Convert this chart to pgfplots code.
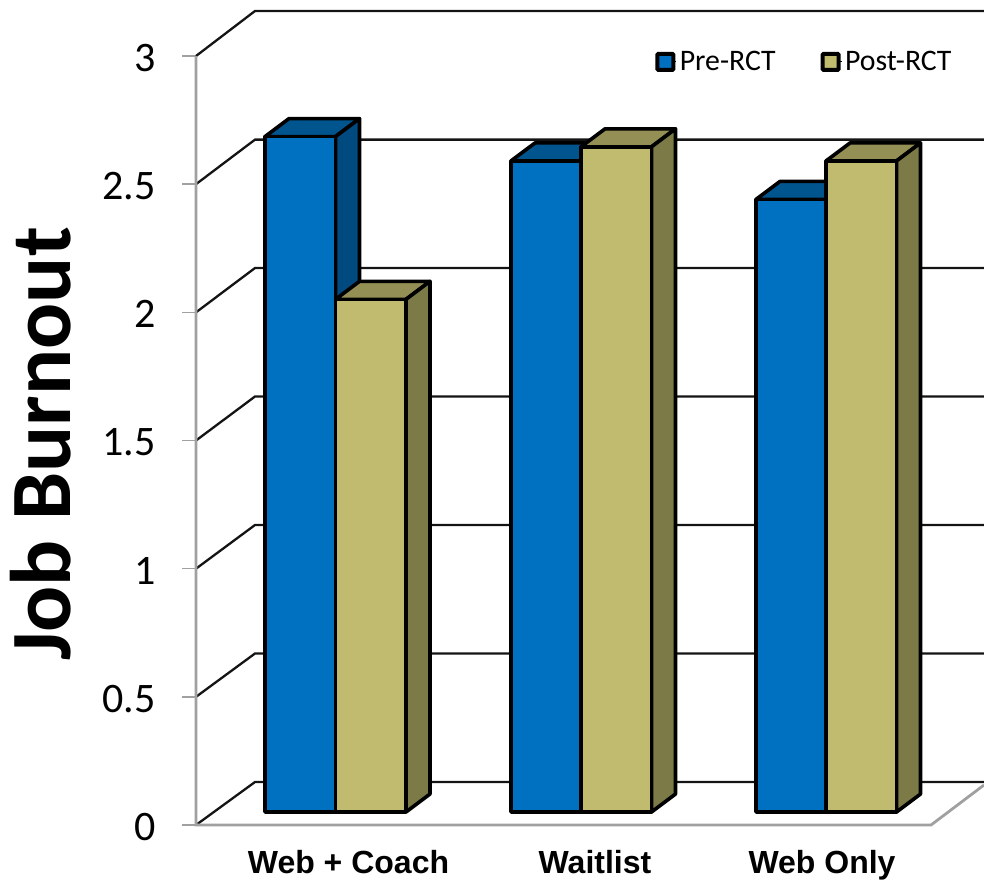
\documentclass[border=0pt]{standalone}
\usepackage{fontspec}
\usepackage{pgfplots}
\pgfplotsset{compat=1.18}
\setmainfont{Carlito}
\newfontfamily\arialfont{Liberation Sans}

\definecolor{preF}{HTML}{0070C0}
\definecolor{preT}{HTML}{00558F}
\definecolor{preS}{HTML}{004A80}
\definecolor{postF}{HTML}{C0BB6E}
\definecolor{postT}{HTML}{948F54}
\definecolor{postS}{HTML}{7C7A47}
\definecolor{wall}{HTML}{A0A0A0}

% x is in picture pixels, y in burnout units; 1 unit = 256.33 px, 1 px = 0.5pt
\newcommand{\threedbar}[5]{%
  \pgfmathsetmacro{\xa}{#1}%
  \pgfmathsetmacro{\xb}{#1+70.5}%
  \pgfmathsetmacro{\xc}{#1+94.5}%
  \pgfmathsetmacro{\xd}{#1+24}%
  \pgfmathsetmacro{\yb}{0.0507}%
  \pgfmathsetmacro{\yc}{0.0507+0.0702}%
  \pgfmathsetmacro{\yt}{#2+0.0507}%
  \pgfmathsetmacro{\yu}{#2+0.0507+0.0702}%
  \addplot[barface,fill=#4] coordinates {(\xa,\yt)(\xd,\yu)(\xc,\yu)(\xb,\yt)} -- cycle;
  \addplot[barface,fill=#5] coordinates {(\xb,\yb)(\xc,\yc)(\xc,\yu)(\xb,\yt)} -- cycle;
  \addplot[barface,fill=#3] coordinates {(\xa,\yb)(\xb,\yb)(\xb,\yt)(\xa,\yt)} -- cycle;
}

\begin{document}
\begin{tikzpicture}
  \path[use as bounding box] (-98pt,-27.5pt) rectangle (394pt,412.5pt);
  \begin{axis}[
    scale only axis,
    width=394pt,
    height=407pt,
    xmin=196, xmax=984,
    ymin=0, ymax=3.1756,
    clip=false,
    axis line style={draw=none},
    tick align=outside,
    major tick length=7pt,
    ytick={0,0.5,1,1.5,2,2.5,3},
    ytick pos=left,
    ytick style={draw=wall,line width=0.8pt},
    /pgf/number format/assume math mode=true,
    yticklabel style={font=\fontsize{21}{21}\selectfont,inner sep=0pt,xshift=-13pt,yshift=-1pt},
    xtick={348.5,595,822},
    xticklabels={Web + Coach,Waitlist,Web Only},
    xtick pos=bottom,
    xtick style={draw=none},
    xticklabel style={font=\arialfont\bfseries\fontsize{16}{16}\selectfont,anchor=base,inner sep=0pt,yshift=-17pt},
    ylabel={Job Burnout},
    every axis y label/.style={
      at={(axis description cs:-0.1597,0.468)},
      rotate=90,anchor=base,inner sep=0pt,
      font=\bfseries\fontsize{43}{43}\selectfont},
    legend columns=2,
    legend style={
      at={(axis description cs:0.5825,0.9375)},anchor=west,
      draw=none,fill=none,inner sep=0pt,
      font=\fontsize{14.9}{14.9}\selectfont,
      /tikz/every even column/.append style={column sep=21pt},
      nodes={inner sep=1.5pt}},
    barface/.style={draw=black,line width=1.8pt,line join=round,forget plot},
    gridline/.style={draw=black!92,line width=1.15pt,forget plot},
  ]
  % back wall and side wall grid
  \addplot[gridline] coordinates {(196,0)(255,0.1678)(984,0.1678)};
  \addplot[gridline] coordinates {(196,0.5)(255,0.6691)(984,0.6691)};
  \addplot[gridline] coordinates {(196,1)(255,1.1704)(984,1.1704)};
  \addplot[gridline] coordinates {(196,1.5)(255,1.6717)(984,1.6717)};
  \addplot[gridline] coordinates {(196,2)(255,2.1730)(984,2.1730)};
  \addplot[gridline] coordinates {(196,2.5)(255,2.6738)(984,2.6738)};
  \addplot[gridline] coordinates {(196,3)(255,3.1756)(984,3.1756)};
  % front wall and floor
  \addplot[draw=wall,line width=1.4pt,forget plot] coordinates {(196,3)(196,0)(931,0)(984,0.156)};

  \threedbar{265}{2.635}{preF}{preT}{preS}
  \threedbar{335.5}{2.00}{postF}{postT}{postS}
  \threedbar{511}{2.54}{preF}{preT}{preS}
  \threedbar{581}{2.595}{postF}{postT}{postS}
  \threedbar{756}{2.39}{preF}{preT}{preS}
  \threedbar{826}{2.54}{postF}{postT}{postS}

  \addlegendimage{legend image code/.code={
    \path (0pt,0pt) -- (9.5pt,0pt);
    \draw[draw=black,fill=preF,line width=2pt,rounded corners=0.5pt] (0pt,-4pt) rectangle (8pt,4pt);}}
  \addlegendentry{Pre-RCT}
  \addlegendimage{legend image code/.code={
    \path (0pt,0pt) -- (9.5pt,0pt);
    \draw[draw=black,fill=postF,line width=2pt,rounded corners=0.5pt] (0pt,-4pt) rectangle (8pt,4pt);}}
  \addlegendentry{Post-RCT}
  \end{axis}
\end{tikzpicture}
\end{document}
